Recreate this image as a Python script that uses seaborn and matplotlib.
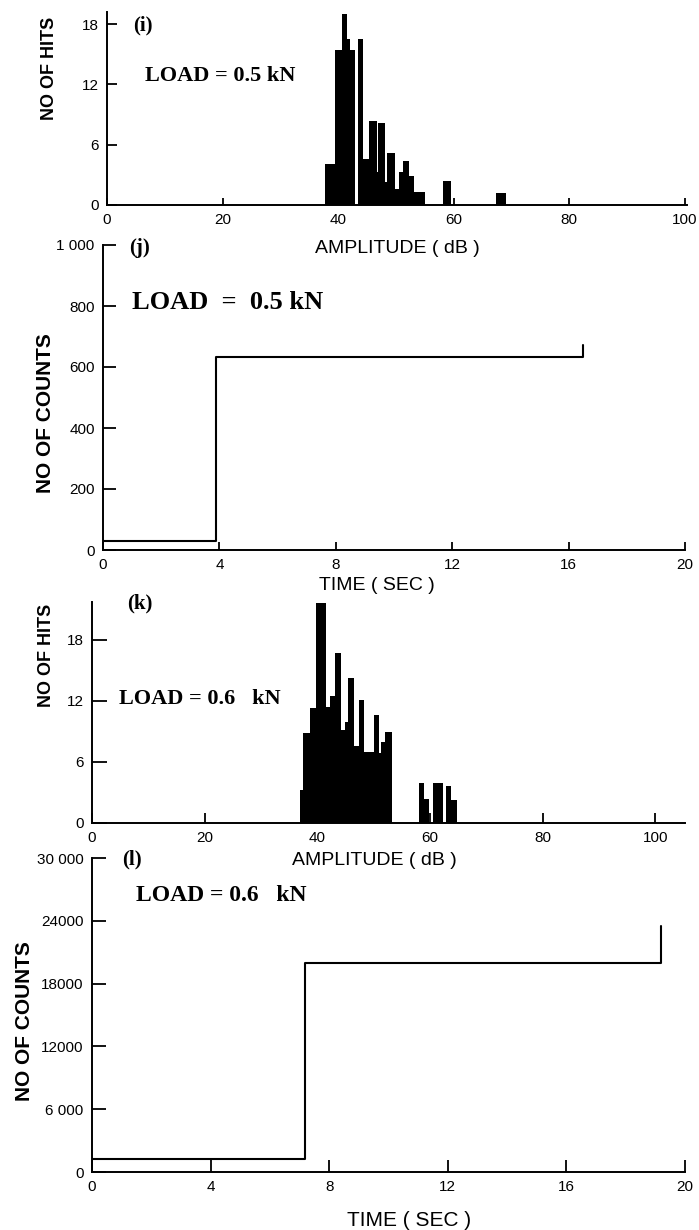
import numpy as np
import pandas as pd
import matplotlib
matplotlib.use("Agg")
import matplotlib.pyplot as plt
import seaborn as sns

# ---- data ----
# (i) amplitude distribution, LOAD = 0.5 kN  (bin edges in dB, hits per bin)
amp_i_edges = [37.7, 39.4, 40.6, 41.5, 42.0, 42.9, 43.4, 44.3, 45.4, 46.7, 46.9, 48.1,
               48.5, 49.8, 50.6, 51.2, 52.3, 53.1, 55.0, 58.2, 59.5, 67.4, 69.1]
hits_i = [4.1, 15.4, 19.0, 16.5, 15.4, 0, 16.5, 4.6, 8.4, 3.3, 8.2,
          2.3, 5.2, 1.6, 3.3, 4.4, 2.9, 1.3, 0, 2.4, 0, 1.2]

# (j) cumulative counts vs time, LOAD = 0.5 kN
time_j = [0, 3.9, 16.5]
counts_j = [28, 632, 672]

# (k) amplitude distribution, LOAD = 0.6 kN
amp_k_edges = [36.9, 37.5, 38.7, 39.8, 41.6, 42.2, 43.2, 44.2, 44.9, 45.5, 46.5, 47.5, 48.3,
               50.0, 50.9, 51.4, 52.0, 53.3, 58.0, 59.0, 59.9, 60.6, 62.3, 62.9, 63.7, 64.8]
hits_k = [3.2, 8.8, 11.3, 21.6, 11.4, 12.5, 16.7, 9.1, 9.9, 14.2, 7.6, 12.1, 7.0,
          10.6, 6.9, 8.0, 8.9, 0, 3.9, 2.4, 0, 3.9, 0, 3.6, 2.3]

# (l) cumulative counts vs time, LOAD = 0.6 kN
time_l = [0, 7.2, 19.2]
counts_l = [1200, 20000, 23500]

amp_ticks = [0, 20, 40, 60, 80, 100]
time_ticks = [0, 4, 8, 12, 16, 20]
hits_ticks = [0, 6, 12, 18]
j_ticks = [0, 200, 400, 600, 800, 1000]
j_ticklabels = ['0', '200', '400', '600', '800', '1 000']
l_ticks = [0, 6000, 12000, 18000, 24000, 30000]
l_ticklabels = ['0', '6 000', '12000', '18000', '24000', '30 000']

sns.set_style('ticks')
plt.rcParams['font.family'] = ['Liberation Sans', 'DejaVu Sans']
plt.rcParams['text.color'] = 'black'
plt.rcParams['axes.labelcolor'] = 'black'
plt.rcParams['xtick.color'] = 'black'
plt.rcParams['ytick.color'] = 'black'

tick_font = ['Liberation Sans', 'DejaVu Sans']
label_font = ['Liberation Sans', 'DejaVu Sans']
serif_font = ['Liberation Serif', 'DejaVu Serif']

fig = plt.figure(figsize=(6.99, 12.30), dpi=100)
W, H = 699.0, 1230.0


def make_ax(left, right, top, bottom):
    ax = fig.add_axes([left / W, 1 - bottom / H, (right - left) / W, (bottom - top) / H])
    ax.set_facecolor('none')
    return ax


def style(ax, ylen, xlen):
    sns.despine(ax=ax)
    for s in ['left', 'bottom']:
        ax.spines[s].set_linewidth(1.4)
        ax.spines[s].set_color('black')
    ax.tick_params(axis='y', direction='in', length=ylen, width=1.3, pad=6, labelsize=11,
                   colors='black')
    ax.tick_params(axis='x', direction='in', length=xlen, width=1.3, pad=6, labelsize=11,
                   colors='black')
    for lab in ax.get_xticklabels() + ax.get_yticklabels():
        lab.set_family(tick_font)


def hist(ax, edges, hits):
    mids = [(a + b) / 2 for a, b in zip(edges[:-1], edges[1:])]
    df = pd.DataFrame({'amp': mids, 'hits': hits})
    sns.histplot(data=df, x='amp', weights='hits', bins=list(edges), color='black',
                 alpha=1, linewidth=0, element='bars', ax=ax)


# ---- (i) ----
ax1 = make_ax(107, 687, 12, 205)
hist(ax1, amp_i_edges, hits_i)
ax1.set_xlim(0, 100.4)
ax1.set_ylim(0, 19.2)
ax1.set_xticks(amp_ticks)
ax1.set_yticks(hits_ticks)
style(ax1, 7, 5)
ax1.set_xlabel('AMPLITUDE ( dB )', family=label_font, fontsize=14, va='center')
ax1.xaxis.set_label_coords(0.50, -0.225)
ax1.set_ylabel('NO OF HITS', family=label_font, fontsize=13, fontweight='bold')
ax1.yaxis.set_label_coords(-0.085, 0.71)
ax1.text(0.045, 0.93, '(i)', transform=ax1.transAxes, family=serif_font,
         fontsize=15, fontweight='bold', va='center')
ax1.text(0.065, 0.67, 'LOAD = 0.5 kN', transform=ax1.transAxes, family=serif_font,
         fontsize=16, fontweight='bold', va='center')

# ---- (j) ----
ax2 = make_ax(103, 685, 245, 550)
sns.lineplot(x=time_j, y=counts_j, drawstyle='steps-post', color='black',
             linewidth=1.5, estimator=None, ax=ax2)
ax2.set_xlim(0, 20)
ax2.set_ylim(0, 1000)
ax2.set_xticks(time_ticks)
ax2.set_yticks(j_ticks)
ax2.set_yticklabels(j_ticklabels)
style(ax2, 9, 6)
ax2.set_xlabel('TIME ( SEC )', family=label_font, fontsize=14, va='center')
ax2.xaxis.set_label_coords(0.47, -0.115)
ax2.set_ylabel('NO OF COUNTS', family=label_font, fontsize=15, fontweight='bold')
ax2.yaxis.set_label_coords(-0.082, 0.45)
ax2.text(0.045, 0.99, '(j)', transform=ax2.transAxes, family=serif_font,
         fontsize=15, fontweight='bold', va='center')
ax2.text(0.05, 0.81, 'LOAD  =  0.5 kN', transform=ax2.transAxes, family=serif_font,
         fontsize=19, fontweight='bold', va='center')

# ---- (k) ----
ax3 = make_ax(92, 685, 602, 823)
hist(ax3, amp_k_edges, hits_k)
ax3.set_xlim(0, 105.3)
ax3.set_ylim(0, 21.7)
ax3.set_xticks(amp_ticks)
ax3.set_yticks(hits_ticks)
style(ax3, 11, 7)
ax3.set_xlabel('AMPLITUDE ( dB )', family=label_font, fontsize=14, va='center')
ax3.xaxis.set_label_coords(0.477, -0.17)
ax3.set_ylabel('NO OF HITS', family=label_font, fontsize=13, fontweight='bold')
ax3.yaxis.set_label_coords(-0.062, 0.76)
ax3.text(0.06, 0.995, '(k)', transform=ax3.transAxes, family=serif_font,
         fontsize=15, fontweight='bold', va='center')
ax3.text(0.045, 0.56, 'LOAD = 0.6   kN', transform=ax3.transAxes, family=serif_font,
         fontsize=16, fontweight='bold', va='center')

# ---- (l) ----
ax4 = make_ax(92, 685, 858, 1172)
sns.lineplot(x=time_l, y=counts_l, drawstyle='steps-post', color='black',
             linewidth=1.5, estimator=None, ax=ax4)
ax4.set_xlim(0, 20)
ax4.set_ylim(0, 30000)
ax4.set_xticks(time_ticks)
ax4.set_yticks(l_ticks)
ax4.set_yticklabels(l_ticklabels)
style(ax4, 10, 9)
ax4.set_xlabel('TIME ( SEC )', family=label_font, fontsize=15, va='center')
ax4.xaxis.set_label_coords(0.535, -0.153)
ax4.set_ylabel('NO OF COUNTS', family=label_font, fontsize=15, fontweight='bold')
ax4.yaxis.set_label_coords(-0.097, 0.48)
ax4.text(0.05, 0.995, '(l)', transform=ax4.transAxes, family=serif_font,
         fontsize=15, fontweight='bold', va='center')
ax4.text(0.075, 0.88, 'LOAD = 0.6   kN', transform=ax4.transAxes, family=serif_font,
         fontsize=17, fontweight='bold', va='center')

fig.savefig('out.png', dpi=100, facecolor='white')
